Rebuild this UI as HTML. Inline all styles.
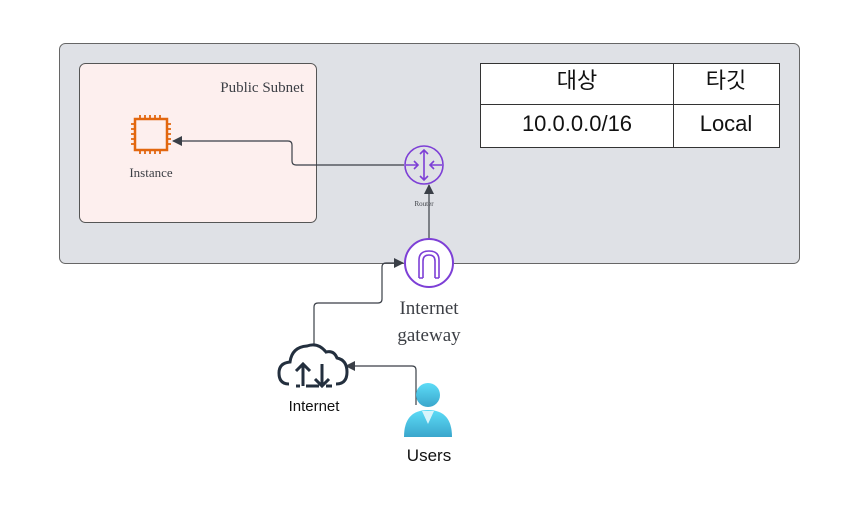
<!DOCTYPE html>
<html><head><meta charset="utf-8"><style>
body{margin:0;background:#fff;width:858px;height:506px;overflow:hidden}
</style></head><body>
<svg width="858" height="506" viewBox="0 0 858 506" xmlns="http://www.w3.org/2000/svg">
<defs>
<marker id="ah" markerWidth="10" markerHeight="10" refX="9" refY="5" orient="auto" markerUnits="userSpaceOnUse">
<path d="M0,0 L10,5 L0,10 Z" fill="#3a3f47"/></marker>
</defs>
<rect x="59.5" y="43.5" width="740" height="220" rx="6" fill="#dfe1e6" stroke="#666" stroke-width="1"/>
<rect x="79.5" y="63.5" width="237" height="159" rx="6" fill="#fdefee" stroke="#555" stroke-width="1"/>
<text x="304" y="92" text-anchor="end" font-family="Liberation Serif, serif" font-size="15" fill="#3c3f45">Public Subnet</text>
<!-- instance chip -->
<g stroke="#e2670f" stroke-width="2" fill="none">
<rect x="135" y="119" width="32" height="31" stroke-width="2.5"/>
<path d="M140,119v-4M145,119v-4M150,119v-4M155,119v-4M160,119v-4M140,150v4M145,150v4M150,150v4M155,150v4M160,150v4M135,124h-4M135,129h-4M135,134h-4M135,139h-4M135,144h-4M167,124h4M167,129h4M167,134h4M167,139h4M167,144h4" stroke-width="1.8"/>
</g>
<text x="151" y="177" text-anchor="middle" font-family="Liberation Serif, serif" font-size="13" fill="#3c3f45">Instance</text>
<!-- connectors -->
<path d="M404,165 H296 Q292,165 292,161 V145 Q292,141 288,141 H173" fill="none" stroke="#3a3f47" stroke-width="1.2" marker-end="url(#ah)"/>
<path d="M429,240 V185" fill="none" stroke="#3a3f47" stroke-width="1.2" marker-end="url(#ah)"/>
<path d="M314,345 V307 Q314,303 318,303 H378 Q382,303 382,299 V267 Q382,263 386,263 H403" fill="none" stroke="#3a3f47" stroke-width="1.2" marker-end="url(#ah)"/>
<path d="M416,405 V370 Q416,366 412,366 H346" fill="none" stroke="#3a3f47" stroke-width="1.2" marker-end="url(#ah)"/>
<!-- router -->
<g stroke="#7d3fd6" stroke-width="1.6" fill="none">
<circle cx="424" cy="165" r="19"/>
<path d="M424,150v30M420,154l4,-4 4,4M420,176l4,4 4,-4M406,165h12M414,161l4,4-4,4M442,165h-12M434,161l-4,4 4,4"/>
</g>
<text x="424" y="206" text-anchor="middle" font-family="Liberation Serif, serif" font-size="7" fill="#3c3f45">Router</text>
<!-- igw -->
<circle cx="429" cy="263" r="24" fill="#fff" stroke="#7d3fd6" stroke-width="2"/>
<path d="M419,278 V260 Q419,251 429,251 Q439,251 439,260 V278 M423,278 V261 Q423,255 429,255 Q435,255 435,261 V278 M419,278h4M435,278h4" fill="none" stroke="#7d3fd6" stroke-width="1.6"/>
<text x="429" y="314" text-anchor="middle" font-family="Liberation Serif, serif" font-size="19" fill="#3c3f45">Internet</text>
<text x="429" y="341" text-anchor="middle" font-family="Liberation Serif, serif" font-size="19" fill="#3c3f45">gateway</text>
<!-- table -->
<g stroke="#333" stroke-width="1" fill="#fff">
<rect x="480.5" y="63.5" width="299" height="84"/>
<path d="M480,104.5H780M673.5,63V147" fill="none"/>
</g>
<g font-family="Liberation Sans, 'Noto Sans CJK KR', sans-serif" font-size="22" fill="#111" text-anchor="middle">
<text x="577" y="88">대상</text><text x="726" y="88">타깃</text>
<text x="577" y="131">10.0.0.0/16</text><text x="726" y="131">Local</text>
</g>
<!-- cloud -->
<path d="M289,384 Q279,384 279,373 Q279,363 290,362 Q292,347 307,346 Q318,342 326,352 Q334,350 337,358 Q347,360 347,372 Q347,384 336,384" fill="none" stroke="#232f3e" stroke-width="3"/>
<path d="M303,386V364M296,371l7,-7 7,7M322,364V386M315,379l7,7 7,-7M296,386h4M306,386h13M326,386h6" fill="none" stroke="#232f3e" stroke-width="3"/>
<text x="314" y="411" text-anchor="middle" font-family="Liberation Sans, sans-serif" font-size="15" fill="#111">Internet</text>
<!-- users -->
<defs><linearGradient id="ug" x1="0" y1="0" x2="0" y2="1"><stop offset="0" stop-color="#5ddcf7"/><stop offset="1" stop-color="#3aa6cc"/></linearGradient></defs>
<circle cx="428" cy="395" r="12" fill="url(#ug)"/>
<path d="M404,437 Q404,410 428,410 Q452,410 452,437 Z" fill="url(#ug)"/>
<path d="M422,411 L428,424 L434,411 Z" fill="#d8f4fb"/>
<text x="429" y="461" text-anchor="middle" font-family="Liberation Sans, sans-serif" font-size="17" fill="#111">Users</text>
</svg>
</body></html>
